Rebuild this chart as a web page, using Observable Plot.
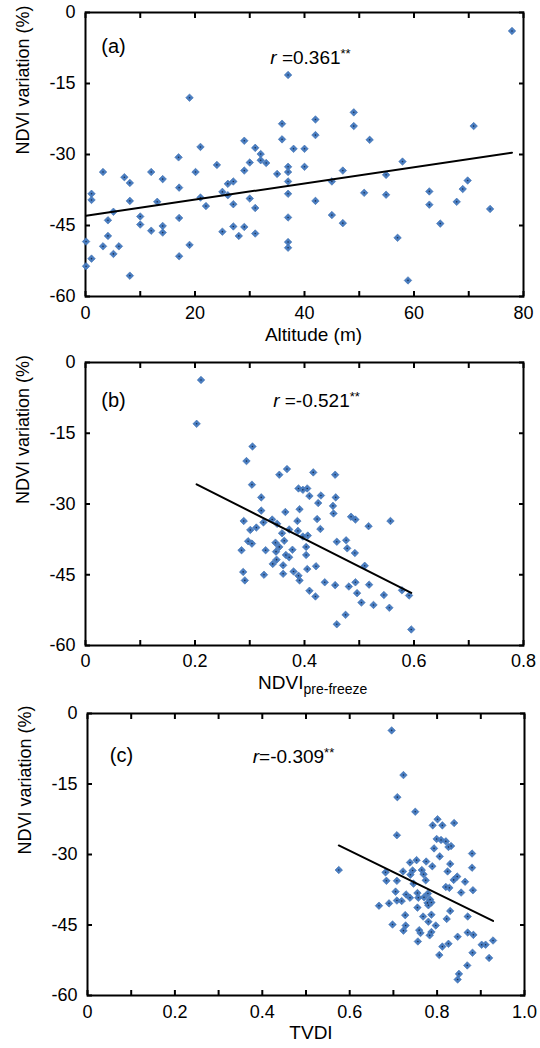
<!DOCTYPE html>
<html><head><meta charset="utf-8">
<script src="https://cdn.jsdelivr.net/npm/d3@7"></script>
<script src="https://cdn.jsdelivr.net/npm/@observablehq/plot@0.6"></script>
<style>
body{margin:0;background:#fff;font-family:Arial,"Liberation Sans",sans-serif}
#chart svg{display:block}
</style>
</head><body><div id="chart"></div>
<script>
// Panel (a): Altitude (m) vs NDVI variation (%)
const altitude = [77.9,37.0,19.0,49.0,49.0,70.9,35.9,42.0,42.0,35.9,51.9,29.0,21.0,31.0,38.0,40.0,32.0,17.0,32.0,33.0,30.0,24.0,40.0,37.0,37.0,57.9,47.0,29.0,35.0,3.2,12.0,20.1,54.9,7.1,14.1,8.1,37.0,27.0,26.0,45.0,69.8,68.9,17.1,1.1,1.1,25.0,26.0,37.0,50.9,54.9,62.8,21.0,30.0,8.1,13.1,42.0,67.8,27.0,22.0,62.8,31.0,73.9,5.1,10.0,17.1,37.0,45.0,4.1,10.0,14.1,27.0,29.0,47.0,64.8,12.0,14.1,25.0,31.0,4.1,28.0,0.1,57.0,37.0,3.2,6.1,19.0,37.0,5.1,17.1,1.1,0.1,8.1,58.9];
const variationA = [-3.9,-13.2,-18.0,-21.1,-24.0,-24.0,-23.5,-22.6,-25.9,-26.8,-26.9,-27.1,-28.4,-28.6,-28.8,-28.8,-29.9,-30.6,-31.2,-31.8,-31.7,-32.2,-32.6,-32.6,-33.7,-31.5,-33.4,-33.4,-34.1,-33.7,-33.7,-33.7,-34.3,-34.8,-35.2,-36.0,-35.7,-35.7,-36.2,-35.7,-35.5,-37.3,-37.0,-38.3,-39.6,-37.9,-38.6,-38.3,-38.1,-38.5,-37.8,-39.1,-39.3,-39.8,-40.0,-39.8,-40.0,-40.5,-40.9,-40.6,-41.3,-41.5,-42.1,-43.1,-43.4,-43.3,-42.8,-43.9,-44.8,-45.1,-45.2,-45.3,-44.5,-44.6,-46.1,-46.5,-46.3,-46.7,-47.2,-47.2,-48.4,-47.6,-48.5,-49.4,-49.4,-49.1,-49.7,-51.0,-51.5,-52.0,-53.6,-55.6,-56.6];

// Panel (b): NDVI pre-freeze vs NDVI variation (%)
const ndviPre = [0.211,0.203,0.305,0.294,0.368,0.354,0.416,0.456,0.304,0.389,0.397,0.405,0.409,0.430,0.457,0.321,0.425,0.452,0.453,0.321,0.365,0.391,0.423,0.485,0.493,0.517,0.557,0.289,0.341,0.325,0.350,0.387,0.429,0.312,0.301,0.372,0.359,0.388,0.397,0.406,0.297,0.304,0.347,0.363,0.459,0.476,0.285,0.329,0.354,0.348,0.378,0.403,0.366,0.372,0.403,0.478,0.492,0.349,0.342,0.361,0.405,0.421,0.510,0.288,0.380,0.361,0.326,0.389,0.391,0.291,0.437,0.456,0.481,0.493,0.518,0.409,0.420,0.496,0.545,0.578,0.591,0.504,0.526,0.555,0.475,0.459,0.595];
const variationB = [-3.7,-13.0,-17.8,-20.9,-22.6,-23.8,-23.3,-23.8,-25.9,-26.7,-27.0,-26.7,-28.3,-28.2,-28.6,-28.6,-29.8,-30.4,-32.0,-31.4,-31.7,-31.1,-33.2,-32.7,-33.3,-34.7,-33.6,-33.6,-33.3,-33.9,-34.2,-33.6,-35.3,-35.0,-35.5,-35.4,-36.2,-35.7,-36.9,-36.7,-37.9,-38.4,-38.2,-37.8,-38.0,-37.7,-39.8,-39.8,-39.1,-40.1,-39.7,-39.1,-40.8,-41.3,-40.8,-39.4,-40.4,-41.8,-42.7,-43.0,-43.8,-43.2,-43.1,-44.4,-44.3,-44.8,-45.0,-45.2,-46.2,-46.2,-46.6,-47.2,-47.5,-46.6,-47.1,-48.4,-49.6,-48.9,-49.3,-48.3,-49.4,-50.9,-51.4,-52.0,-53.5,-55.5,-56.6];

// Panel (c): TVDI vs NDVI variation (%)
const tvdi = [0.696,0.723,0.709,0.750,0.801,0.790,0.812,0.839,0.708,0.799,0.809,0.820,0.832,0.826,0.793,0.806,0.880,0.753,0.738,0.775,0.789,0.830,0.880,0.575,0.722,0.744,0.765,0.824,0.682,0.739,0.769,0.846,0.838,0.684,0.708,0.774,0.864,0.820,0.828,0.746,0.855,0.882,0.705,0.729,0.755,0.779,0.738,0.757,0.770,0.784,0.708,0.719,0.778,0.787,0.780,0.667,0.690,0.755,0.830,0.787,0.727,0.768,0.870,0.822,0.780,0.797,0.698,0.728,0.723,0.759,0.762,0.787,0.783,0.847,0.870,0.883,0.756,0.902,0.911,0.928,0.812,0.826,0.805,0.881,0.919,0.869,0.850,0.847];
const variationC = [-3.6,-13.1,-17.8,-20.9,-22.5,-23.8,-23.8,-23.3,-25.9,-26.7,-26.9,-27.2,-28.2,-28.4,-28.7,-30.4,-29.8,-31.2,-31.7,-31.5,-32.5,-32.0,-32.8,-33.3,-33.6,-33.4,-33.3,-33.6,-33.8,-34.3,-34.2,-34.7,-35.4,-35.6,-35.6,-35.5,-35.8,-36.9,-37.1,-36.2,-38.1,-37.6,-37.9,-38.5,-38.2,-38.3,-39.2,-39.2,-39.1,-39.6,-39.8,-39.9,-40.3,-40.2,-40.8,-40.9,-40.4,-41.3,-42.0,-42.8,-42.9,-43.2,-43.2,-43.7,-44.3,-45.1,-44.9,-45.1,-46.2,-46.1,-46.7,-46.5,-47.2,-47.5,-46.6,-47.1,-48.5,-49.2,-49.2,-48.3,-49.6,-49.0,-51.4,-50.9,-52.0,-53.6,-55.4,-56.6];

// Ticks and labels
const yTicks = [0, -15, -30, -45, -60];
const yTickLabels = ["0", "-15", "-30", "-45", "-60"];
const xTicksA = [0,10,20,30,40,50,60,70,80];
const xTickLabelsA = ["0","","20","","40","","60","","80"];
const xTicksB = [0,0.1,0.2,0.3,0.4,0.5,0.6,0.7,0.8];
const xTickLabelsB = ["0","","0.2","","0.4","","0.6","","0.8"];
const xTicksC = [0,0.1,0.2,0.3,0.4,0.5,0.6,0.7,0.8,0.9,1.0];
const xTickLabelsC = ["0","","0.2","","0.4","","0.6","","0.8","","1.0"];
const panelTags = ["(a)", "(b)", "(c)"];
const rValues = ["=0.361", "=-0.521", "=-0.309"];
const xTitles = ["Altitude (m)", "NDVI", "TVDI"];
const yTitle = "NDVI variation (%)";

const FONT = "Arial, 'Liberation Sans', sans-serif";
const BLUE = "#4a7ec2";

function makePanel(cfg) {
  const data = cfg.xs.map((x, i) => ({x, y: cfg.ys[i]}));
  const xFmt = new Map(cfg.xTicks.map((t, i) => [t, cfg.xLabels[i]]));
  const yFmt = new Map(yTicks.map((t, i) => [t, yTickLabels[i]]));
  const marks = [
    Plot.axisX({anchor: "bottom", ticks: cfg.xTicks, tickSize: -5, tickPadding: cfg.xPad, strokeWidth: 2,
      tickFormat: d => xFmt.get(d) ?? "", label: null, fontSize: 18}),
    Plot.axisX({anchor: "top", ticks: cfg.xTicks, tickSize: -5, strokeWidth: 2, tickFormat: () => "", label: null}),
    Plot.axisY({anchor: "left", ticks: yTicks, tickSize: -5, tickPadding: 15, strokeWidth: 2,
      tickFormat: d => yFmt.get(d) ?? "", label: null, fontSize: 18}),
    Plot.axisY({anchor: "right", ticks: yTicks, tickSize: -5, strokeWidth: 2, tickFormat: () => "", label: null}),
    Plot.frame({stroke: "black", strokeWidth: 2}),
    Plot.dot(data, {x: "x", y: "y", symbol: "diamond2", r: 3.4, fill: BLUE, stroke: "#3f70b0", strokeWidth: 0.6}),
    Plot.dot(data, {x: "x", y: "y", r: 0.8, fill: "#1c3050"}),
    Plot.linearRegressionY(data, {x: "x", y: "y", ci: 0, stroke: "black", strokeWidth: 2}),
    Plot.text([cfg.tag], {frameAnchor: "top-left", dx: cfg.tagDx, dy: cfg.tagDy, fontSize: 20, textAnchor: "middle"}),
    Plot.text([cfg.rText], {frameAnchor: "top-left", dx: cfg.rDx, dy: cfg.rDy, fontSize: 19, textAnchor: "middle", className: "rlabel"}),
    Plot.text([yTitle], {frameAnchor: "left", dx: -62, rotate: -90, fontSize: 18}),
    Plot.text([cfg.xTitle], {frameAnchor: "bottom", dx: cfg.xtDx, dy: cfg.xtDy, fontSize: 19, textAnchor: cfg.sub ? "end" : "middle"})
  ];
  if (cfg.sub) {
    marks.push(Plot.text([cfg.sub], {frameAnchor: "bottom", dx: cfg.xtDx, dy: cfg.xtDy + 5, fontSize: 14, textAnchor: "start"}));
  }
  const svg = Plot.plot({
    width: 540, height: cfg.height,
    marginTop: cfg.mt, marginBottom: cfg.mb, marginLeft: cfg.ml, marginRight: cfg.mr,
    style: {fontFamily: FONT, fontSize: "18px", color: "#000", background: "#fff", overflow: "visible"},
    x: {domain: cfg.xDomain},
    y: {domain: [-60, 0]},
    marks
  });
  // italic r and superscript asterisks
  d3.select(svg).selectAll("g.rlabel text").each(function() {
    const t = d3.select(this);
    t.text(null);
    t.append("tspan").attr("font-style", "italic").text("r");
    t.append("tspan").text(cfg.rSpace + cfg.rText);
    t.append("tspan").attr("font-size", 13).attr("dy", -6).text("**");
  });
  return svg;
}

const chart = document.getElementById("chart");
chart.appendChild(makePanel({
  xs: altitude, ys: variationA, xDomain: [0, 80], xTicks: xTicksA, xLabels: xTickLabelsA,
  height: 350, mt: 12, mb: 54, ml: 85, mr: 17, xPad: 15,
  tag: panelTags[0], tagDx: 28, tagDy: 26, rText: rValues[0], rSpace: " ", rDx: 225, rDy: 38,
  xTitle: xTitles[0], xtDx: 9, xtDy: 44
}));
chart.appendChild(makePanel({
  xs: ndviPre, ys: variationB, xDomain: [0, 0.8], xTicks: xTicksB, xLabels: xTickLabelsB,
  height: 350, mt: 12, mb: 55, ml: 85, mr: 17, xPad: 14,
  tag: panelTags[1], tagDx: 28, tagDy: 30, rText: rValues[1], rSpace: " ", rDx: 231, rDy: 31,
  xTitle: xTitles[1], sub: "pre-freeze", xtDx: -1, xtDy: 43
}));
chart.appendChild(makePanel({
  xs: tvdi, ys: variationC, xDomain: [0, 1], xTicks: xTicksC, xLabels: xTickLabelsC,
  height: 348, mt: 13, mb: 53, ml: 87, mr: 16, xPad: 15,
  tag: panelTags[2], tagDx: 34, tagDy: 34, rText: rValues[2], rSpace: "", rDx: 206, rDy: 36,
  xTitle: xTitles[2], xtDx: 5, xtDy: 43
}));
</script>
</body></html>
